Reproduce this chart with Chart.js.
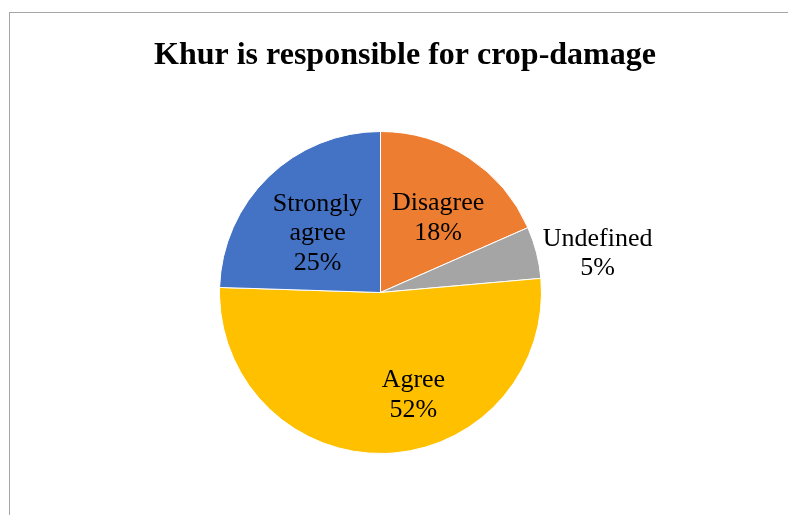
<!DOCTYPE html>
<html>
<head>
<meta charset="utf-8">
<script src="https://cdn.jsdelivr.net/npm/chart.js@4/dist/chart.umd.min.js"></script>
<style>
  html, body { margin: 0; padding: 0; background: #fff; overflow: hidden; }
  #wrap { position: relative; width: 788px; height: 515px; }
  #frame { position: absolute; left: 9px; top: 12px; width: 820px; height: 600px; border: 1px solid #a6a6a6; box-sizing: border-box; }
  canvas { position: absolute; left: 0; top: 0; }
</style>
</head>
<body>
<div id="wrap">
  <div id="frame"></div>
  <canvas id="c" width="788" height="515"></canvas>
</div>
<script>
const chartTitle = 'Khur is responsible for crop-damage';
const categories = ['Disagree', 'Undefined', 'Agree', 'Strongly agree'];
// slice sizes as measured from the slice angles in the picture
const sliceValues = [18.4, 5.2, 51.9, 24.5];
// percentages as printed on the slice labels
const percentLabels = ['18%', '5%', '52%', '25%'];
const sliceColors = ['#ED7D31', '#A5A5A5', '#FFC000', '#4472C4'];

// label placement style: radial factor (of outer radius) and fraction along the slice angle
const labelRadial = [0.594, 1.372, 0.659, 0.543];
const labelAngleFrac = [0.559, 0.703, 0.412, 0.478];

const labelFont = '26px "Liberation Serif", "Times New Roman", serif';
const lineH = 29.5;
const capH = 17.2;

function wrapWords(ctx, text, maxW) {
  const words = text.split(' ');
  const lines = [];
  let cur = '';
  for (const w of words) {
    const t = cur ? cur + ' ' + w : w;
    if (cur && ctx.measureText(t).width > maxW) { lines.push(cur); cur = w; }
    else cur = t;
  }
  if (cur) lines.push(cur);
  return lines;
}

const labelPlugin = {
  id: 'sliceLabels',
  afterDatasetsDraw(chart) {
    const ctx = chart.ctx;
    const meta = chart.getDatasetMeta(0);
    ctx.save();
    ctx.font = labelFont;
    ctx.fillStyle = '#000';
    ctx.textAlign = 'center';
    ctx.textBaseline = 'alphabetic';
    meta.data.forEach((arc, i) => {
      const p = arc.getProps(['x', 'y', 'startAngle', 'endAngle', 'outerRadius'], true);
      const ang = p.startAngle + (p.endAngle - p.startAngle) * labelAngleFrac[i];
      const r = p.outerRadius * labelRadial[i];
      const cx = p.x + Math.cos(ang) * r;
      const cy = p.y + Math.sin(ang) * r;
      const lines = wrapWords(ctx, chart.data.labels[i], 120);
      lines.push(percentLabels[i]);
      const n = lines.length;
      const b1 = cy - ((n - 1) * lineH - capH) / 2;
      lines.forEach((ln, k) => ctx.fillText(ln, cx, b1 + k * lineH));
    });
    ctx.restore();
  }
};

const titlePlugin = {
  id: 'customTitle',
  afterDraw(chart) {
    const ctx = chart.ctx;
    ctx.save();
    ctx.font = 'bold 32px "Liberation Serif", "Times New Roman", serif';
    ctx.fillStyle = '#000';
    ctx.textAlign = 'center';
    ctx.textBaseline = 'alphabetic';
    ctx.fillText(chartTitle, 405, 64);
    ctx.restore();
  }
};

new Chart(document.getElementById('c'), {
  type: 'pie',
  data: {
    labels: categories,
    datasets: [{
      data: sliceValues,
      backgroundColor: sliceColors,
      borderColor: '#ffffff',
      borderWidth: 1
    }]
  },
  options: {
    responsive: false,
    animation: false,
    layout: { padding: { top: 131, bottom: 61, left: 219, right: 246 } },
    plugins: {
      legend: { display: false },
      title: { display: false },
      tooltip: { enabled: false }
    }
  },
  plugins: [labelPlugin, titlePlugin]
});
</script>
</body>
</html>
